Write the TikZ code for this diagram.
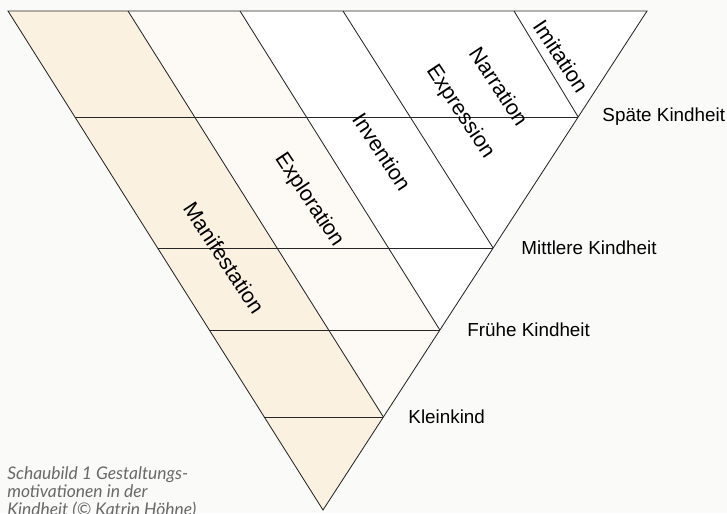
\documentclass[tikz,border=0pt]{standalone}
\usepackage{fontspec}
\setmainfont{Liberation Sans}
\newfontfamily\capfont{Lato}
\usetikzlibrary{positioning,calc}
\definecolor{pagebg}{RGB}{250,250,248}
\definecolor{manibg}{RGB}{250,241,225}
\definecolor{explbg}{RGB}{253,250,245}
\definecolor{capgray}{RGB}{105,105,105}

\begin{document}
\begin{tikzpicture}[x=0.025cm,y=-0.025cm,
    edge/.style={draw=black!85,line width=0.6pt},
    lvl/.style={inner sep=0pt,font=\fontsize{13.4}{16}\selectfont},
    motiv/.style={inner sep=0pt,rotate=-56.5,font=\fontsize{15.3}{18}\selectfont},
    capt/.style={inner sep=0pt,align=left,text=capgray,font=\capfont\itshape\fontsize{12.4}{12.8}\selectfont}]
  \fill[pagebg] (0,0) rectangle (727,513);
  \useasboundingbox (0,0) rectangle (727,513);
  % outer triangle
  \coordinate (tl) at (8,11);
  \coordinate (tr) at (647,11);
  \coordinate (apex) at (323,510);
  % age levels: ends on the right and on the left edge
  \foreach \n/\t in {spaet/0.2124,mittel/0.4749,frueh/0.6393,klein/0.8136} {
    \coordinate (\n-r) at ($(tr)!\t!(apex)$);
    \coordinate (\n-l) at ($(tl)!\t!(apex)$);
  }
  % tops of the slanted bands
  \coordinate (d1) at (128,11);
  \coordinate (d2) at (240,11);
  \coordinate (d3) at (343,11);
  \coordinate (d4) at (514,11);
  \fill[white] (tl) -- (tr) -- (apex) -- cycle;
  \fill[manibg] (tl) -- (d1) -- (klein-r) -- (apex) -- cycle;
  \fill[explbg] (d1) -- (d2) -- (frueh-r) -- (klein-r) -- cycle;
  \draw[edge] (tl) -- (tr) -- (apex) -- cycle;
  \foreach \n in {spaet,mittel,frueh,klein} \draw[edge] (\n-l) -- (\n-r);
  \foreach \d/\n in {d1/klein,d2/frueh,d3/mittel,d4/spaet} \draw[edge] (\d) -- (\n-r);
  % motivations
  \node[motiv] (imit) at (561,56) {Imitation};
  \node[motiv] (narr) at (499,86) {Narration};
  \node[motiv] (expr) at (460,112) {Expression};
  \node[motiv] (inve) at (382,152) {Invention};
  \node[motiv] (expl) at (309,200) {Exploration};
  \node[motiv] (mani) at (224,258) {Manifestation};
  % age labels
  \node[lvl,right=0.6cm of spaet-r] (spaet) {Späte Kindheit};
  \node[lvl,right=0.7cm of mittel-r] (mittel) {Mittlere Kindheit};
  \node[lvl,right=0.68cm of frueh-r] (frueh) {Frühe Kindheit};
  \node[lvl,right=0.62cm of klein-r] (klein) {Kleinkind};
  \node[capt,anchor=north west] (caption) at (7,466)
    {Schaubild 1 Gestaltungs-\\motivationen in der\\Kindheit (© Katrin Höhne)};
\end{tikzpicture}
\end{document}
